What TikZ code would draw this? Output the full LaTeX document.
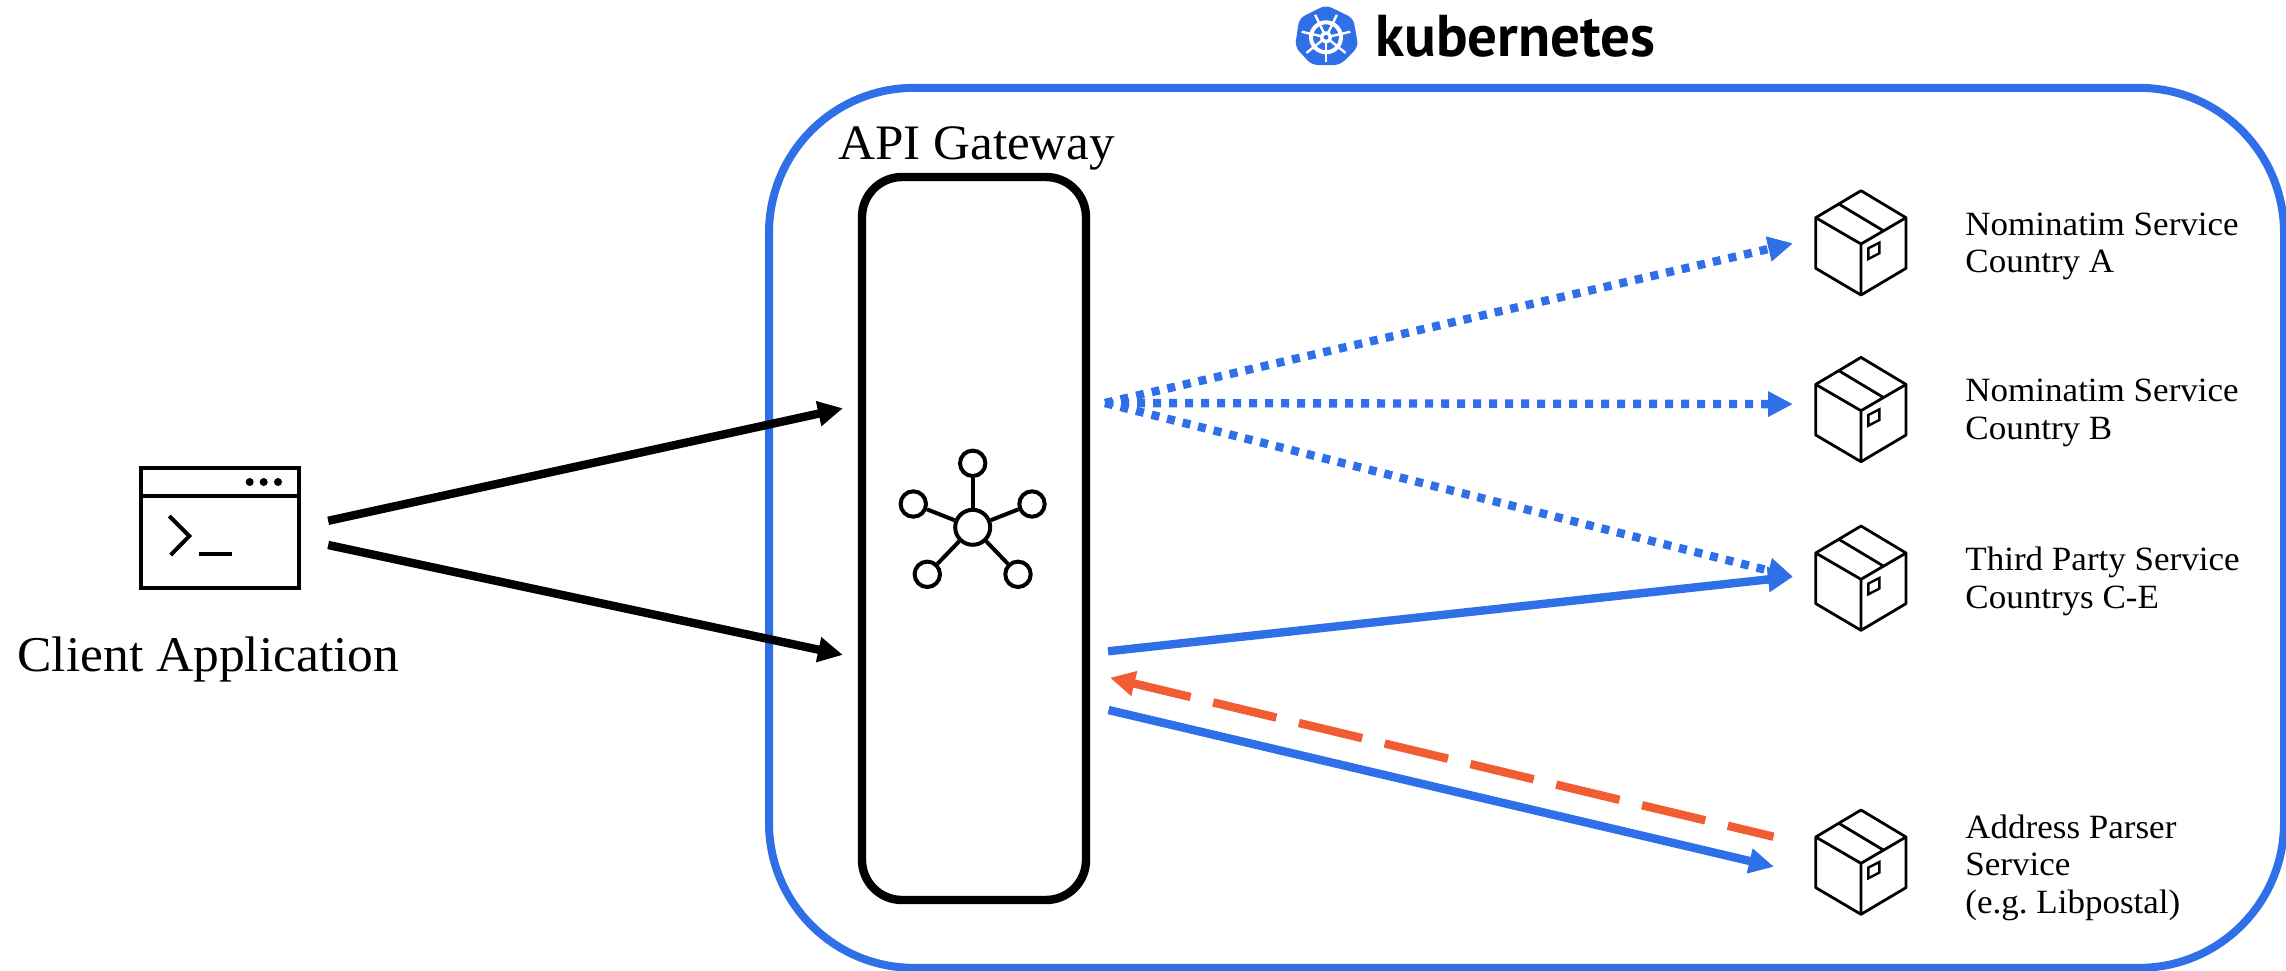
\documentclass[tikz,border=0pt]{standalone}
\usepackage{fontspec}
\setmainfont{Liberation Serif}[FakeStretch=1.03]
\newfontfamily\kubefont{PT Sans}
\usetikzlibrary{arrows.meta}
\definecolor{kubeblue}{HTML}{2F6FE8}
\definecolor{replyred}{HTML}{F25C33}
\frenchspacing
\tikzset{
cluster/.style={rectangle, draw=kubeblue, line width=4pt, rounded corners=72.5pt, inner sep=0pt, minimum width=757.5pt, minimum height=440pt},
gatewaybox/.style={rectangle, draw, line width=4.2pt, rounded corners=20pt, inner sep=0pt, outer xsep=9.5pt, minimum width=112pt, minimum height=361.5pt},
clientbox/.style={rectangle, draw, line width=2pt, inner sep=0pt, outer xsep=14.6pt, minimum width=79pt, minimum height=60pt},
servicebox/.style={rectangle, inner sep=0pt, outer xsep=11.5pt, minimum width=45pt, minimum height=52pt},
hubnode/.style={circle, draw, line width=2pt, inner sep=0pt, minimum size=12.7pt},
bigtext/.style={anchor=base west, inner sep=0pt, font=\fontsize{25pt}{30pt}\selectfont},
servicetext/.style={anchor=base west, inner sep=0pt, align=left, font=\fontsize{17pt}{18.7pt}\selectfont},
line/.style={line width=4.2pt, -{Triangle[length=12.5pt,width=12pt]}},
dotline/.style={line, kubeblue, dash pattern=on 4pt off 4pt},
cube/.pic={
    \draw [line width=1.4pt, line join=round] (0,-53.3) -- (45,-26.3) -- (45,24.3) -- (0,51) -- (-45.3,24.3) -- (-45.3,-26.3) -- cycle;
    \draw [line width=1.4pt, line join=round] (-45.3,-26.3) -- (0,0) -- (45,-26.3) (0,0) -- (0,51) (-21.7,-39.7) -- (22.3,-13.3);
    \draw [line width=1.2pt] (7.3,4.3) -- (18.3,-1.3) -- (18.3,9.3) -- (7.3,15) -- cycle;
}
}

\begin{document}
\begin{tikzpicture}[x=0.5pt, y=-0.5pt]
    \useasboundingbox (0,0) rectangle (2286,970);
    % Place boxes
    \node [cluster] (cluster) at (1526.5,527.85) {};
    \node [gatewaybox] (gateway) at (974,538.5) {};
    \node [clientbox] (client) at (220,528) {};
    \node [bigtext, font=\fontsize{24.8pt}{30pt}\selectfont] (gatewaytext) at (838,159) {API Gateway};
    \node [bigtext] (clienttext) at (17,671.7) {Client Application};
    % Client window
    \draw [line width=2pt] (141,495.7) -- (299,495.7);
    \foreach \dotx in {249.7,263.7,278}
        \fill (\dotx,482) circle (2pt);
    \draw [line width=2pt] (169.3,516) -- (189.3,536) -- (170.7,555);
    \draw [line width=2pt] (199.3,554) -- (232,554);
    % Hub
    \node [hubnode, minimum size=17.5pt] (hub) at (972.7,527.3) {};
    \node [hubnode] (hubtop) at (972.7,463.3) {};
    \node [hubnode] (hubleft) at (913.3,504) {};
    \node [hubnode] (hubright) at (1032,504) {};
    \node [hubnode] (hubsw) at (927.3,574.3) {};
    \node [hubnode] (hubse) at (1018,574.3) {};
    \foreach \spoke in {hubtop,hubleft,hubright,hubsw,hubse}
        \draw [line width=2pt] (hub) -- (\spoke);
    % Services
    \foreach \name/\posy in {nominatima/244,nominatimb/410.7,thirdparty/579.3,parser/863.3} {
        \node [servicebox] (\name) at (1861,\posy) {};
        \pic at (\name.center) {cube};
    }
    \node [servicetext] (nominatimatext) at (1965,272.7) {Nominatim Service\\Country A};
    \node [servicetext] (nominatimbtext) at (1965,439.3) {Nominatim Service\\Country B};
    \node [servicetext] (thirdpartytext) at (1965,608.3) {Third Party Service\\Countrys C-E};
    \node [servicetext] (parsertext) at (1965,913.3) {Address Parser\\Service\\(e.g. Libpostal)};
    % Logo
    \fill [kubeblue, rounded corners=3pt] (1326,5) -- (1353.3,18.3) -- (1358.3,46.7) -- (1340,65) -- (1311.7,65) -- (1295,46.7) -- (1299.3,18.3) -- cycle;
    \draw [white, line width=2pt] (1326,37.3) circle (7.5pt);
    \foreach \ang in {0,...,6}
        \draw [white, line width=1.2pt] (1326,37.3) -- ++({90+\ang*360/7}:25);
    \fill [white] (1326,37.3) circle (3pt);
    \fill [kubeblue] (1326,37.3) circle (1.2pt);
    \node [anchor=base west, inner sep=0pt, font=\kubefont\bfseries\fontsize{29.5pt}{32pt}\selectfont] (logotext) at (1375,56) {kubernetes};
    % Draw edges
    \draw [line] ([yshift=3.6pt]client.east) -- ([yshift=65.1pt]gateway.west);
    \draw [line] ([yshift=-8.5pt]client.east) -- ([yshift=-58.2pt]gateway.west);
    \draw [dotline] ([yshift=67.75pt]gateway.east) -- ([yshift=0.35pt]nominatima.west);
    \draw [dotline] ([yshift=67.75pt]gateway.east) -- ([yshift=3.3pt]nominatimb.west);
    \draw [dotline] ([yshift=67.75pt]gateway.east) -- ([yshift=1.3pt]thirdparty.west);
    \draw [line, kubeblue] ([xshift=1.5pt,yshift=-56.4pt]gateway.east) -- ([yshift=1.3pt]thirdparty.west);
    \draw [line, kubeblue] ([xshift=1.75pt,yshift=-85.75pt]gateway.east) -- ([xshift=-9.5pt,yshift=-1.7pt]parser.west);
    \draw [line, replyred, dash pattern=on 32.5pt off 11.6pt, dash phase=9pt] ([xshift=-9.75pt,yshift=13.3pt]parser.west) -- ([xshift=2.5pt,yshift=-69.6pt]gateway.east);
\end{tikzpicture}
\end{document}
